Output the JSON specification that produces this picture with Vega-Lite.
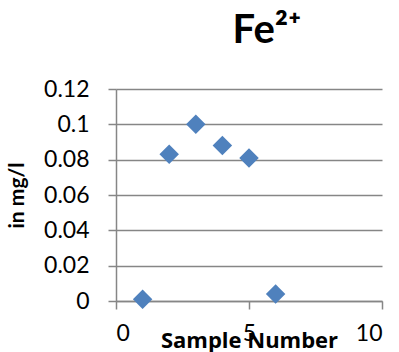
{
  "$schema": "https://vega.github.io/schema/vega-lite/v6.json",
  "width": 266,
  "height": 212,
  "autosize": {"type": "none"},
  "padding": {"left": 116, "top": 89, "right": 17, "bottom": 51},
  "background": "white",
  "title": {
    "text": "Fe²⁺",
    "font": "Lato",
    "fontSize": 40,
    "fontWeight": "bold",
    "color": "black",
    "anchor": "middle",
    "dx": 18,
    "offset": 27
  },
  "data": {
    "values": [
      {"sample": 1, "fe": 0.001},
      {"sample": 2, "fe": 0.083},
      {"sample": 3, "fe": 0.1},
      {"sample": 4, "fe": 0.088},
      {"sample": 5, "fe": 0.081},
      {"sample": 6, "fe": 0.004}
    ]
  },
  "mark": {
    "type": "point",
    "shape": "diamond",
    "filled": true,
    "size": 380,
    "color": "#4F81BD",
    "opacity": 1
  },
  "encoding": {
    "x": {
      "field": "sample",
      "type": "quantitative",
      "scale": {"domain": [0, 10], "nice": false, "zero": false},
      "axis": {
        "values": [0, 5, 10],
        "title": "Sample Number",
        "grid": false,
        "labelPadding": 13,
        "titleFont": "Open Sans",
        "titleFontSize": 22,
        "titleY": 46,
        "titleBaseline": "alphabetic"
      }
    },
    "y": {
      "field": "fe",
      "type": "quantitative",
      "scale": {"domain": [0, 0.12], "nice": false},
      "axis": {
        "values": [0, 0.02, 0.04, 0.06, 0.08, 0.1, 0.12],
        "format": ".2~f",
        "title": "in mg/l",
        "grid": true,
        "labelPadding": 19,
        "titleAngle": -90,
        "titleX": -99,
        "titleY": 106,
        "titleAlign": "center",
        "titleBaseline": "middle"
      }
    }
  },
  "config": {
    "view": {"stroke": null},
    "axis": {
      "domainColor": "#868686",
      "domainWidth": 1.5,
      "gridColor": "#868686",
      "gridWidth": 1.5,
      "tickColor": "#868686",
      "tickWidth": 1.5,
      "tickSize": 8,
      "labelFont": "Lato",
      "labelFontSize": 23,
      "labelColor": "black",
      "titleFont": "Lato",
      "titleFontSize": 21,
      "titleFontWeight": "bold",
      "titleColor": "black"
    }
  }
}
